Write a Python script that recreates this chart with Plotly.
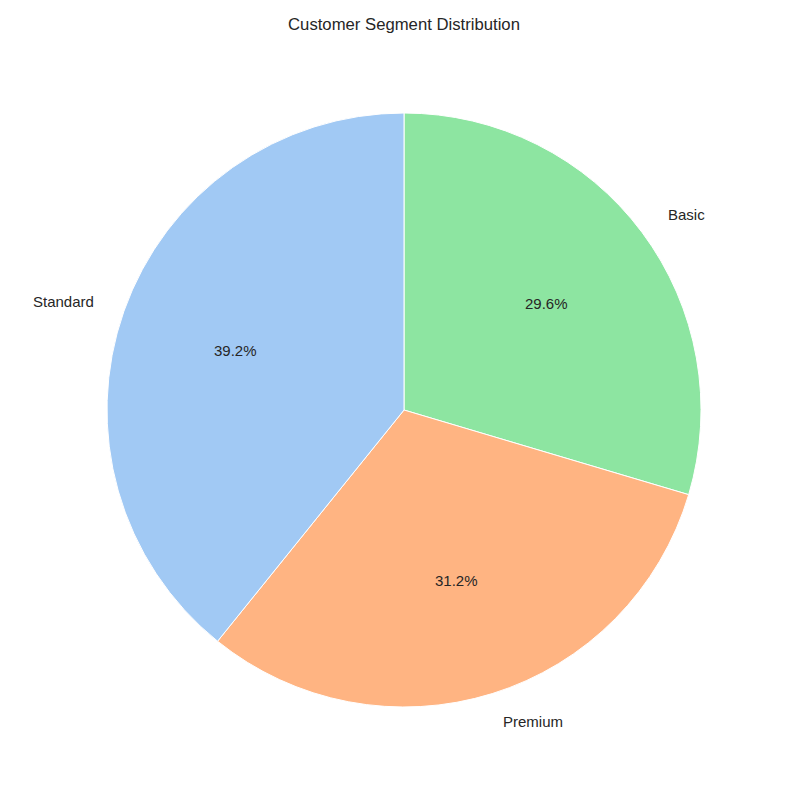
import math
import plotly.graph_objects as go

segments = ["Standard", "Premium", "Basic"]
shares = [39.2, 31.2, 29.6]
colors = ["#a1c9f4", "#ffb482", "#8de5a1"]

# matplotlib draws counterclockwise from 12 o'clock; Plotly clockwise from 12 with reversed order is equivalent
fig = go.Figure(go.Pie(
    labels=segments[::-1], values=shares[::-1], sort=False, direction="clockwise",
    rotation=0, textinfo="none", hoverinfo="label+percent",
    marker=dict(colors=colors[::-1], line=dict(color="white", width=1)),
    showlegend=False,
))

# label (r=1.1) and percent (r=0.6) positions derived from the data
total = sum(shares)
annos = []
start = 90.0
for lab, v in zip(segments, shares):
    theta = start + v / total * 360 / 2
    start += v / total * 360
    c, s = math.cos(math.radians(theta)), math.sin(math.radians(theta))
    annos.append(dict(x=0.5 + 0.5 * 1.1 * c, y=0.5 + 0.5 * 1.1 * s, xref="paper", yref="paper",
                      text=lab, showarrow=False, xanchor="right" if c < 0 else "left",
                      yanchor="middle", font=dict(size=15, color="#262626")))
    annos.append(dict(x=0.5 + 0.5 * 0.6 * c, y=0.5 + 0.5 * 0.6 * s, xref="paper", yref="paper",
                      text=f"{v / total * 100:.1f}%", showarrow=False, xanchor="center",
                      yanchor="middle", font=dict(size=15, color="#262626")))

fig.update_layout(
    width=800, height=800,
    margin=dict(l=99, r=107, t=105, b=101),
    paper_bgcolor="white", plot_bgcolor="white",
    font=dict(family="Liberation Sans, Arial, sans-serif", color="#262626"),
    title=dict(text="Customer Segment Distribution", x=0.495, xanchor="center",
               y=1 - 16 / 800, yanchor="middle", font=dict(size=16.7, color="#262626")),
    annotations=annos,
)
fig.write_html("out.html")
